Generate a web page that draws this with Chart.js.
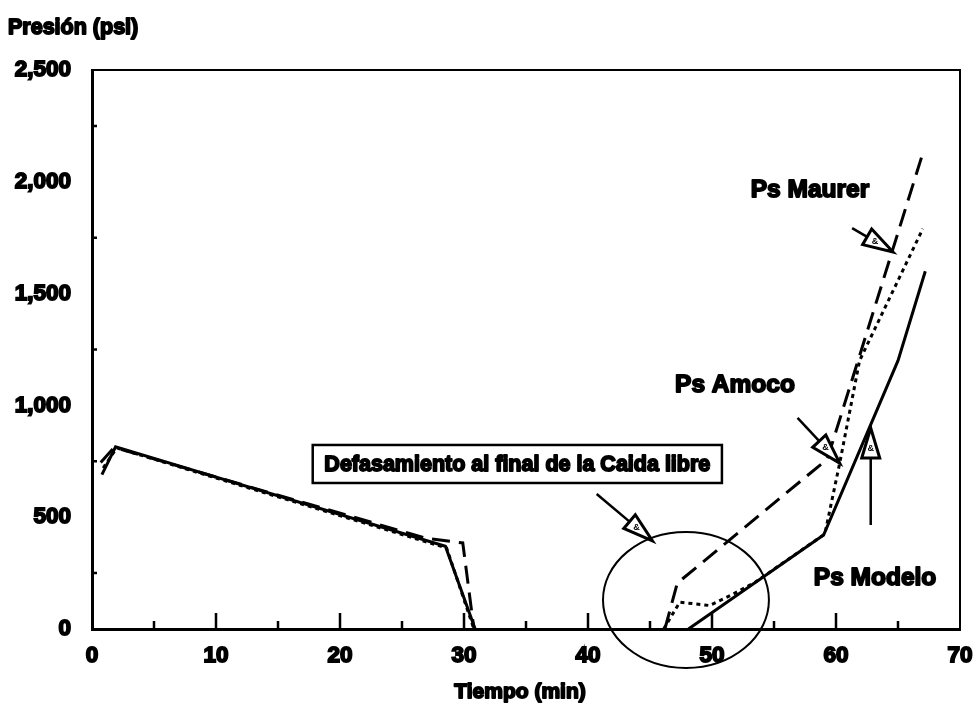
<!DOCTYPE html>
<html>
<head>
<meta charset="utf-8">
<style>
  html, body { margin: 0; padding: 0; background: #fff; }
  #wrap { width: 978px; height: 716px; }
</style>
<script src="https://cdn.jsdelivr.net/npm/chart.js@4.4.1/dist/chart.umd.min.js"></script>
</head>
<body>
<div id="wrap"><canvas id="c" width="978" height="716"></canvas></div>
<script>
// Surface pressure (psi) against time (min) for the three models.
// A null pressure breaks each curve between the free-fall run and the later build-up.
const modeloTime = [0.8, 1.9, 28.5, 30.9, 40, 48.1, 59.0, 65.0, 67.2];
const modeloPsi  = [690, 815, 370, 0, null, 0, 420, 1200, 1600];

const maurerTime = [0.7, 1.8, 27.0, 29.9, 30.8, 40, 46.2, 47.2, 59.3, 66.9];
const maurerPsi  = [745, 812, 405, 385, 0, null, 0, 205, 760, 2110];

const amocoTime  = [0.9, 2.0, 28.6, 30.8, 40, 46.1, 47.4, 49.8, 51.5, 53.5, 59.1, 60.3, 61.9, 67.0];
const amocoPsi   = [720, 810, 362, 0, null, 0, 120, 105, 150, 210, 425, 742, 1200, 1790];

const xMajorTicks = [10, 20, 30, 40, 50, 60];
const xMinorTicks = [5, 15, 25, 35, 45, 55, 65];
const yMinorTicks = [250, 750, 1250, 1750, 2250];

const FONT = '"Liberation Sans", Arial, sans-serif';

function points(t, p) {
  return t.map((x, i) => ({ x: x, y: p[i] }));
}

// Callouts, placed in data units so they follow the scales.
const notes = {
  box: { x1: 17.8, x2: 50.8, y1: 823, y2: 653, text: 'Defasamiento al final de la Caida libre' },
  ring: { cx: 47.9, cy: 130, rx: 6.69, ry: 304 },
  arrows: [
    { from: [40.7, 604], to: [45.2, 394] },
    { from: [56.9, 944], to: [60.3, 742] },
    { from: [61.3, 1793], to: [64.6, 1686] },
    { from: [62.8, 465], to: [62.8, 899] }
  ],
  labels: [
    { x: 57.9, y: 1963, text: 'Ps Maurer' },
    { x: 51.85, y: 1091, text: 'Ps Amoco' },
    { x: 63.15, y: 228, text: 'Ps Modelo' }
  ]
};

function heavyText(ctx, text, x, y, size, align) {
  ctx.save();
  ctx.font = 'bold ' + size + 'px ' + FONT;
  ctx.textAlign = align || 'center';
  ctx.textBaseline = 'middle';
  ctx.fillStyle = '#000';
  ctx.strokeStyle = '#000';
  ctx.lineWidth = 1.8;
  ctx.lineJoin = 'round';
  ctx.fillText(text, x, y);
  ctx.strokeText(text, x, y);
  ctx.restore();
}

const decorations = {
  id: 'decorations',
  afterDraw(chart) {
    const ctx = chart.ctx;
    const xs = chart.scales.x, ys = chart.scales.y;
    const a = chart.chartArea;
    const px = v => xs.getPixelForValue(v);
    const py = v => ys.getPixelForValue(v);

    ctx.save();
    // frame on top and right
    ctx.strokeStyle = '#000';
    ctx.lineWidth = 2;
    ctx.beginPath();
    ctx.moveTo(a.left, a.top);
    ctx.lineTo(a.right, a.top);
    ctx.lineTo(a.right, a.bottom);
    ctx.stroke();

    // inward tick marks
    ctx.lineWidth = 2.5;
    ctx.beginPath();
    xMajorTicks.forEach(v => { ctx.moveTo(px(v), a.bottom); ctx.lineTo(px(v), a.bottom - 16); });
    xMinorTicks.forEach(v => { ctx.moveTo(px(v), a.bottom); ctx.lineTo(px(v), a.bottom - 8); });
    yMinorTicks.forEach(v => { ctx.moveTo(a.left, py(v)); ctx.lineTo(a.left + 5, py(v)); });
    ctx.stroke();

    // axis titles
    heavyText(ctx, 'Presión (psi)', 8, 28, 21.5, 'left');
    heavyText(ctx, 'Tiempo (min)', 520, 692, 21, 'center');

    // boxed note
    const b = notes.box;
    const bx1 = px(b.x1), bx2 = px(b.x2), by1 = py(b.y1), by2 = py(b.y2);
    ctx.fillStyle = '#fff';
    ctx.fillRect(bx1, by1, bx2 - bx1, by2 - by1);
    ctx.lineWidth = 2.5;
    ctx.strokeRect(bx1, by1, bx2 - bx1, by2 - by1);
    heavyText(ctx, b.text, (bx1 + bx2) / 2, (by1 + by2) / 2 + 1, 21.5, 'center');

    // ring round the end of the free fall
    const r = notes.ring;
    ctx.lineWidth = 2;
    ctx.beginPath();
    ctx.ellipse(px(r.cx), py(r.cy), px(r.cx + r.rx) - px(r.cx), py(r.cy) - py(r.cy + r.ry), 0, 0, Math.PI * 2);
    ctx.stroke();

    // arrows with open heads
    notes.arrows.forEach(ar => {
      const x0 = px(ar.from[0]), y0 = py(ar.from[1]);
      const x1 = px(ar.to[0]), y1 = py(ar.to[1]);
      const dx = x1 - x0, dy = y1 - y0, len = Math.hypot(dx, dy);
      const ux = dx / len, uy = dy / len, nx = -uy, ny = ux;
      const head = 30, half = 9;
      const bxp = x1 - ux * head, byp = y1 - uy * head;
      ctx.lineWidth = 2.5;
      ctx.beginPath();
      ctx.moveTo(x0, y0);
      ctx.lineTo(bxp, byp);
      ctx.stroke();
      ctx.beginPath();
      ctx.moveTo(x1, y1);
      ctx.lineTo(bxp + nx * half, byp + ny * half);
      ctx.lineTo(bxp - nx * half, byp - ny * half);
      ctx.closePath();
      ctx.fillStyle = '#fff';
      ctx.fill();
      ctx.lineWidth = 3;
      ctx.stroke();
      ctx.fillStyle = '#000';
      ctx.font = 'bold 9px ' + FONT;
      ctx.textAlign = 'center';
      ctx.textBaseline = 'middle';
      ctx.fillText('&', bxp + ux * 9, byp + uy * 9);
    });

    // series names
    notes.labels.forEach(l => heavyText(ctx, l.text, px(l.x), py(l.y), 24.5, 'center'));
    ctx.restore();
  }
};

new Chart(document.getElementById('c'), {
  type: 'line',
  data: {
    datasets: [
      {
        label: 'Ps Modelo',
        data: points(modeloTime, modeloPsi),
        borderColor: '#000',
        borderWidth: 3,
        pointRadius: 0,
        tension: 0
      },
      {
        label: 'Ps Maurer',
        data: points(maurerTime, maurerPsi),
        borderColor: '#000',
        borderWidth: 3,
        borderDash: [18, 9],
        pointRadius: 0,
        tension: 0
      },
      {
        label: 'Ps Amoco',
        data: points(amocoTime, amocoPsi),
        borderColor: '#000',
        borderWidth: 3,
        borderDash: [4, 4],
        pointRadius: 0,
        tension: 0
      }
    ]
  },
  options: {
    responsive: false,
    animation: false,
    spanGaps: false,
    layout: { padding: { top: 70, right: 18, left: 0, bottom: 0 } },
    plugins: { legend: { display: false }, tooltip: { enabled: false } },
    scales: {
      x: {
        type: 'linear',
        min: 0,
        max: 70,
        grid: { display: false },
        border: { display: true, color: '#000', width: 3 },
        ticks: {
          stepSize: 10,
          padding: 5,
          color: '#000',
          font: { family: FONT, size: 22.5, weight: 'bold' },
          textStrokeColor: '#000',
          textStrokeWidth: 1.8,
          maxRotation: 0
        },
        afterFit: s => { s.height = 87; }
      },
      y: {
        min: 0,
        max: 2500,
        grid: { display: false },
        border: { display: true, color: '#000', width: 3 },
        ticks: {
          stepSize: 500,
          padding: 13,
          color: '#000',
          font: { family: FONT, size: 22.5, weight: 'bold' },
          textStrokeColor: '#000',
          textStrokeWidth: 1.8,
          callback: v => v.toLocaleString('en-US')
        },
        afterFit: s => { s.width = 92; }
      }
    }
  },
  plugins: [decorations]
});
</script>
</body>
</html>
